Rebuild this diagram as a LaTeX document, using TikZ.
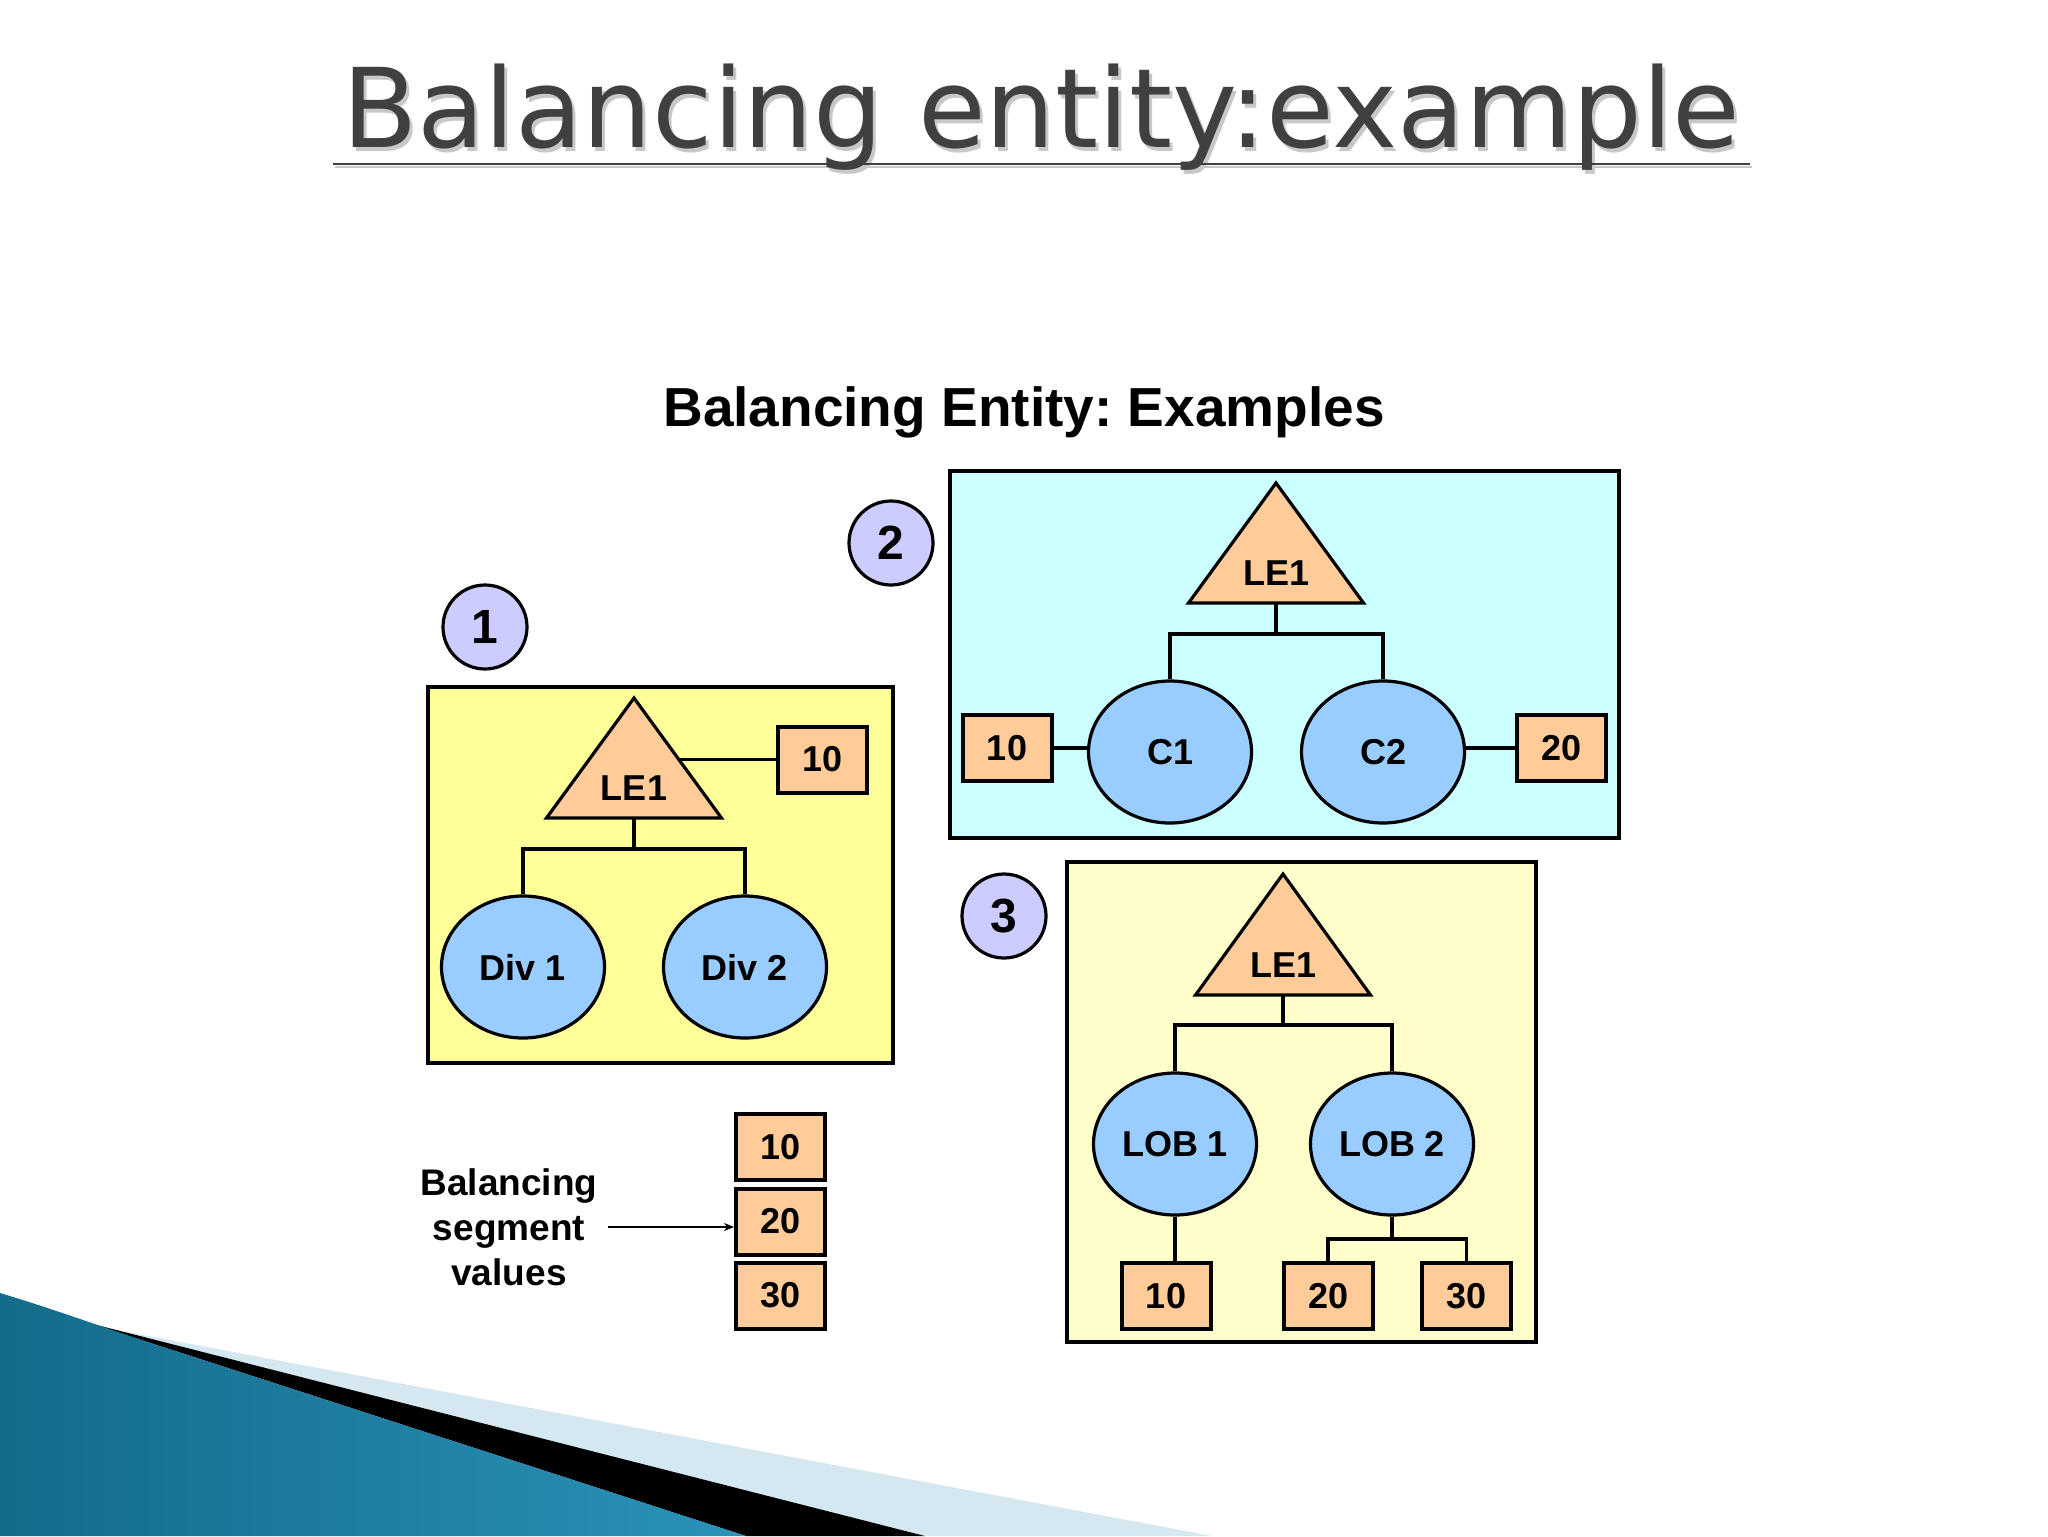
\documentclass[tikz,border=0pt]{standalone}
\usepackage{fontspec}
\setmainfont{Liberation Sans}
\newfontfamily\titlefont{DejaVu Sans}
\usetikzlibrary{shapes.geometric,arrows.meta}
\definecolor{peach}{HTML}{FFCC99}
\definecolor{entblue}{HTML}{99CCFF}
\definecolor{lav}{HTML}{CCCCFF}
\definecolor{pyellow}{HTML}{FFFF99}
\definecolor{pcyan}{HTML}{CCFFFF}
\definecolor{pcream}{HTML}{FFFFCC}
\definecolor{titlegray}{HTML}{404040}
\definecolor{titleshadow}{HTML}{C8C8C8}
\definecolor{swlight}{HTML}{D5E8F1}
\definecolor{swdark}{HTML}{146B8A}
\definecolor{swmid}{HTML}{52B4D8}
\definecolor{swright}{HTML}{2A93BA}
\frenchspacing
\begin{document}
\begin{tikzpicture}[x=0.5pt,y=-0.5pt,
  panel/.style={draw=black,line width=2pt},
  seg/.style={rectangle,draw=black,line width=2pt,fill=peach,minimum width=44.5pt,minimum height=33pt,inner sep=0pt,font=\bfseries\fontsize{18}{20}\selectfont},
  ent/.style={ellipse,draw=black,line width=1.6pt,fill=entblue,minimum width=81.5pt,minimum height=71pt,inner sep=0pt,font=\bfseries\fontsize{18}{20}\selectfont},
  num/.style={circle,draw=black,line width=1.6pt,fill=lav,minimum size=42pt,inner sep=0pt,font=\bfseries\fontsize{24}{26}\selectfont},
  link/.style={draw=black,line width=1.6pt},
  tri/.style={draw=black,line width=1.6pt,fill=peach,line join=miter},
  lbl/.style={inner sep=0pt,font=\bfseries\fontsize{18}{20}\selectfont}
]
\useasboundingbox (0,0) rectangle (2048,1536);
\fill[white] (0,0) rectangle (2048,1536);

% bottom swoosh
\fill[swlight] (95,1326) -- (1212,1536) -- (925,1536) -- cycle;
\fill[black] (85,1322) -- (925,1536) -- (746,1536) -- (160,1346) -- cycle;
\shade[left color=swdark,middle color=swmid,right color=swright]
  (0,1293) .. controls (60,1311) and (110,1330) .. (166,1348) -- (746,1536) -- (0,1536) -- cycle;

% title
\node[font=\titlefont\fontsize{55}{60}\selectfont,text=titleshadow,anchor=base] (titlesh) at (1044,151) {Balancing entity:example};
\draw[titleshadow,line width=1.4pt] (335,167) -- (1752,167);
\node[font=\titlefont\fontsize{55}{60}\selectfont,text=titlegray,anchor=base] (title) at (1041,148) {Balancing entity:example};
\draw[titlegray,line width=1.4pt] (333,164) -- (1750,164);

% subtitle
\node[font=\bfseries\fontsize{27.5}{30}\selectfont,anchor=base] (sub) at (1024,426) {Balancing Entity: Examples};

% ---------------- panel 1 ----------------
\draw[panel,fill=pyellow] (428,687) rectangle (893,1063);
\node[num] (n1) at (485,627) {1};
\draw[tri] (634,698) -- (721.5,818) -- (546.5,818) -- cycle;
\coordinate (t1b) at (634,818);
\coordinate (t1r) at (679,759.5);
\node[lbl] (le1a) at (634,788) {LE1};
\node[seg] (s10a) at (822.5,759.5) {10};
\node[ent] (div1) at (523,967) {Div 1};
\node[ent] (div2) at (745,967) {Div 2};
\coordinate (j1) at (634,849);
\draw[link] (t1r) -- (s10a.west);
\draw[link] (t1b) -- (j1);
\draw[link] (j1) -| (div1.north);
\draw[link] (j1) -| (div2.north);

% ---------------- panel 2 ----------------
\draw[panel,fill=pcyan] (950,471) rectangle (1619,838);
\node[num] (n2) at (891,543) {2};
\draw[tri] (1276,483) -- (1363.5,603) -- (1188.5,603) -- cycle;
\coordinate (t2b) at (1276,603);
\node[lbl] (le1b) at (1276,573) {LE1};
\node[ent] (c1) at (1170,752) {C1};
\node[ent] (c2) at (1383,752) {C2};
\node[seg] (s10b) at (1007,748) {10};
\node[seg] (s20b) at (1561.5,748) {20};
\coordinate (j2) at (1276,634);
\draw[link] (t2b) -- (j2);
\draw[link] (j2) -| (c1.north);
\draw[link] (j2) -| (c2.north);
\draw[link] (s10b.east) -- (s10b.east -| c1.west);
\draw[link] (s20b.west) -- (s20b.west -| c2.east);

% ---------------- panel 3 ----------------
\draw[panel,fill=pcream] (1067,862) rectangle (1536,1342);
\node[num] (n3) at (1004,916) {3};
\draw[tri] (1283,874) -- (1370.5,995) -- (1195.5,995) -- cycle;
\coordinate (t3b) at (1283,995);
\node[lbl] (le1c) at (1283,965) {LE1};
\node[ent] (lob1) at (1175,1144) {LOB 1};
\node[ent] (lob2) at (1392,1144) {LOB 2};
\node[seg] (s10c) at (1166,1296) {10};
\node[seg] (s20c) at (1328,1296) {20};
\node[seg] (s30c) at (1466.5,1296) {30};
\coordinate (j3) at (1283,1025);
\coordinate (j4) at (1392,1239);
\draw[link] (t3b) -- (j3);
\draw[link] (j3) -| (lob1.north);
\draw[link] (j3) -| (lob2.north);
\draw[link] (lob1.south) -- (lob1.south |- s10c.north);
\draw[link] (lob2.south) -- (j4);
\draw[link] (j4) -| (s20c.north);
\draw[link] (j4) -| (s30c.north);

% ---------------- legend ----------------
\node[seg] (l10) at (780.5,1147) {10};
\node[seg] (l20) at (780.5,1221.5) {20};
\node[seg] (l30) at (780.5,1295.5) {30};
\node[align=center,inner sep=0pt,font=\bfseries\fontsize{18.5}{22.5}\selectfont] (bsv) at (509,1227) {Balancing\\segment\\values};
\coordinate (arrs) at (608,1227);
\draw[line width=1pt,-{Stealth[length=5pt,width=4pt]}] (arrs) -- (arrs -| l20.west);
\end{tikzpicture}
\end{document}
